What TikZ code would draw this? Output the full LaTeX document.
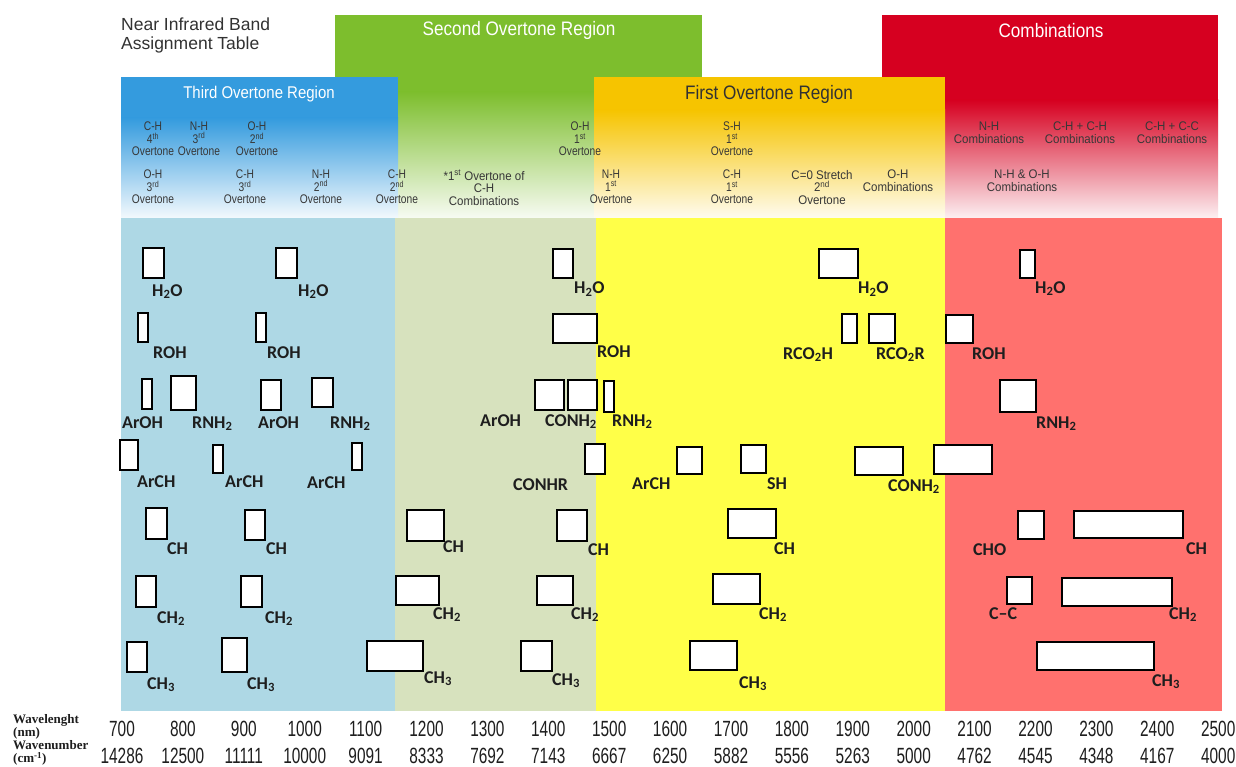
\documentclass[tikz,border=0pt]{standalone}
\usepackage{fontspec}
\setmainfont{Liberation Sans}
\newfontfamily\labfont{Carlito}
\newfontfamily\condfont{Liberation Sans}[FakeStretch=0.82]
\newfontfamily\widecondfont{Liberation Sans}[FakeStretch=0.92]
\newfontfamily\titlefont{Liberation Sans}[FakeStretch=0.88]
\newfontfamily\numfont{Liberation Sans}[FakeStretch=0.7]
\newfontfamily\axfont{Liberation Serif}

% region colours
\definecolor{blueHead}{RGB}{52,155,222}
\definecolor{greenHead}{RGB}{125,190,45}
\definecolor{yellowHead}{RGB}{246,196,0}
\definecolor{redHead}{RGB}{214,0,32}
\definecolor{blueBody}{RGB}{174,216,229}
\definecolor{greenBody}{RGB}{215,226,190}
\definecolor{yellowBody}{RGB}{255,255,72}
\definecolor{redBody}{RGB}{255,113,110}
\definecolor{labcol}{RGB}{30,30,30}
\definecolor{hdrcol}{RGB}{55,55,55}
\definecolor{titlecol}{RGB}{50,50,50}

\tikzset{
  bandbox/.style={draw=black, fill=white, line width=2.5pt, inner sep=0pt},
  lab/.style={anchor=base west, inner sep=0pt, text=labcol,
    font=\labfont\bfseries\fontsize{18}{18}\selectfont},
  hdr/.style={anchor=north, align=center, inner sep=0pt, text=hdrcol,
    font=\condfont\fontsize{12.5}{12.5}\selectfont},
  hdrwide/.style={hdr, font=\widecondfont\fontsize{12.5}{12.5}\selectfont},
  region/.style={inner sep=0pt, font=\titlefont\fontsize{19.5}{20}\selectfont},
  axnum/.style={inner sep=0pt, text=labcol, font=\numfont\fontsize{22}{22}\selectfont},
  axlab/.style={anchor=north west, align=left, inner sep=0pt, text=labcol,
    font=\axfont\bfseries\fontsize{13}{13.5}\selectfont},
}

% band box: name, centre x, centre y, width, height
\newcommand\bandbox[5]{\node[bandbox, minimum width=#4pt, minimum height=#5pt] (#1) at (#2,#3) {};}
% band label: name, x, baseline y, text
\newcommand\bandlab[4]{\node[lab] (#1) at (#2,#3) {#4};}

\begin{document}
\begin{tikzpicture}[x=1pt, y=-1pt]
\useasboundingbox (0,0) rectangle (1236,767);
\fill[white] (0,0) rectangle (1236,767);

% ---------- header panels ----------
\fill[greenHead] (335,15) rectangle (702,92);
\shade[top color=greenHead, bottom color=greenHead!6] (335,92) rectangle (702,218);
\fill[redHead] (882,15) rectangle (1218,100);
\shade[top color=redHead, bottom color=redHead!6] (882,100) rectangle (1218,218);
\fill[blueHead] (121,77) rectangle (398,118);
\shade[top color=blueHead, bottom color=blueHead!6] (121,118) rectangle (398,218);
\fill[yellowHead] (594,77) rectangle (945,110);
\shade[top color=yellowHead, bottom color=yellowHead!6] (594,110) rectangle (945,218);

% ---------- body bands ----------
\fill[blueBody] (121,218) rectangle (395,711);
\fill[greenBody] (395,218) rectangle (596,711);
\fill[yellowBody] (596,218) rectangle (945,711);
\fill[redBody] (945,218) rectangle (1222,711);

% ---------- titles ----------
\node[anchor=north west, align=left, inner sep=0pt, text=titlecol,
  font=\fontsize{17.5}{19.5}\selectfont] (title) at (121,17.5)
  {Near Infrared Band\\Assignment Table};
\node[region, text=white, font=\titlefont\fontsize{17}{17}\selectfont] (third) at (259,94) {Third Overtone Region};
\node[region, text=white] (second) at (519,30) {Second Overtone Region};
\node[region, text=titlecol] (first) at (769,94) {First Overtone Region};
\node[region, text=white] (comb) at (1051,31) {Combinations};

% ---------- header assignments ----------
\node[hdr] (h1) at (153,122) {C-H\\4\textsuperscript{th}\\Overtone};
\node[hdr] (h2) at (199,122) {N-H\\3\textsuperscript{rd}\\Overtone};
\node[hdr] (h3) at (257,122) {O-H\\2\textsuperscript{nd}\\Overtone};
\node[hdr] (h4) at (153,170) {O-H\\3\textsuperscript{rd}\\Overtone};
\node[hdr] (h5) at (245,170) {C-H\\3\textsuperscript{rd}\\Overtone};
\node[hdr] (h6) at (321,170) {N-H\\2\textsuperscript{nd}\\Overtone};
\node[hdr] (h7) at (397,170) {C-H\\2\textsuperscript{nd}\\Overtone};
\node[hdrwide] (h8) at (484,170) {*1\textsuperscript{st} Overtone of\\C-H\\Combinations};
\node[hdr] (h9) at (580,122) {O-H\\1\textsuperscript{st}\\Overtone};
\node[hdr] (h10) at (732,122) {S-H\\1\textsuperscript{st}\\Overtone};
\node[hdr] (h11) at (611,170) {N-H\\1\textsuperscript{st}\\Overtone};
\node[hdr] (h12) at (732,170) {C-H\\1\textsuperscript{st}\\Overtone};
\node[hdrwide] (h13) at (822,170) {C=0 Stretch\\2\textsuperscript{nd}\\Overtone};
\node[hdrwide] (h14) at (898,170) {O-H\\Combinations};
\node[hdrwide] (h15) at (989,122) {N-H\\Combinations};
\node[hdrwide] (h16) at (1080,122) {C-H + C-H\\Combinations};
\node[hdrwide] (h17) at (1172,122) {C-H + C-C\\Combinations};
\node[hdrwide] (h18) at (1022,170) {N-H \& O-H\\Combinations};

% ---------- band boxes ----------
% third overtone region
\bandbox{h2oA}{153.5}{263}{21}{30}
\bandbox{h2oB}{286.5}{263}{21}{30}
\bandbox{rohA}{143}{327.5}{10}{29}
\bandbox{rohB}{261}{327.5}{10}{29}
\bandbox{arohA}{147}{394}{10}{30}
\bandbox{rnhA}{183.5}{393}{25}{34}
\bandbox{arohB}{271}{395}{20}{30}
\bandbox{rnhB}{322.5}{392.5}{21}{29}
\bandbox{archA}{129}{455}{18}{30}
\bandbox{archB}{218}{459}{10}{28}
\bandbox{archC}{357}{456.5}{10}{27}
\bandbox{chA}{156.5}{523.5}{21}{31}
\bandbox{chB}{255}{525}{20}{30}
\bandbox{chtA}{146}{591.5}{20}{31}
\bandbox{chtB}{251.5}{591.5}{21}{31}
\bandbox{chmA}{137}{657}{20}{30}
\bandbox{chmB}{234.5}{655}{25}{34}
% second overtone region
\bandbox{chmC}{395}{656}{56}{30}
\bandbox{chC}{425.5}{525.5}{37}{31}
\bandbox{chtC}{417.5}{590.5}{43}{29}
\bandbox{h2oC}{563}{263.5}{20}{29}
\bandbox{rohC}{575}{328.5}{44}{29}
\bandbox{arohC}{549.5}{395}{29}{30}
\bandbox{conA}{582.5}{395}{29}{30}
\bandbox{rnhC}{609}{396.5}{10}{31}
\bandbox{conhr}{595}{459}{20}{30}
\bandbox{chD}{572}{525.5}{30}{31}
\bandbox{chtD}{555}{590.5}{36}{29}
\bandbox{chmD}{536.5}{656}{31}{30}
% first overtone region
\bandbox{h2oD}{838.5}{263.5}{39}{29}
\bandbox{rcoh}{849.5}{328.5}{15}{29}
\bandbox{rcor}{882}{328.5}{26}{29}
\bandbox{archD}{689.5}{460.5}{25}{27}
\bandbox{sh}{753.5}{459}{25}{28}
\bandbox{conB}{879}{461}{48}{28}
\bandbox{chE}{752}{523.5}{48}{29}
\bandbox{chtE}{736.5}{589}{47}{30}
\bandbox{chmE}{713.5}{655.5}{47}{29}
% combinations
\bandbox{rohD}{959.5}{329}{27}{28}
\bandbox{h2oE}{1027.5}{264}{15}{28}
\bandbox{rnhD}{1018}{396}{36}{32}
\bandbox{conC}{963}{459.5}{58}{29}
\bandbox{cho}{1031}{525}{26}{28}
\bandbox{chF}{1128.5}{524.5}{109}{27}
\bandbox{cc}{1019.5}{590.5}{25}{27}
\bandbox{chtF}{1117}{592}{110}{28}
\bandbox{chmF}{1095.5}{656}{117}{28}

% ---------- band labels ----------
\bandlab{lh2oA}{152}{296}{H\textsubscript{2}O}
\bandlab{lh2oB}{298}{296}{H\textsubscript{2}O}
\bandlab{lh2oC}{574}{294}{H\textsubscript{2}O}
\bandlab{lh2oD}{858}{294}{H\textsubscript{2}O}
\bandlab{lh2oE}{1035}{293}{H\textsubscript{2}O}
\bandlab{lrohA}{153}{358}{ROH}
\bandlab{lrohB}{267}{358}{ROH}
\bandlab{lrohC}{597}{357}{ROH}
\bandlab{lrohD}{972}{359}{ROH}
\bandlab{larohA}{122}{428}{ArOH}
\bandlab{larohB}{258}{428}{ArOH}
\bandlab{larohC}{480}{426}{ArOH}
\bandlab{lrnhA}{192}{428}{RNH\textsubscript{2}}
\bandlab{lrnhB}{330}{428}{RNH\textsubscript{2}}
\bandlab{lrnhC}{612}{426}{RNH\textsubscript{2}}
\bandlab{lrnhD}{1036}{428}{RNH\textsubscript{2}}
\bandlab{lconA}{545}{426}{CONH\textsubscript{2}}
\bandlab{lconB}{888}{491}{CONH\textsubscript{2}}
\bandlab{larchA}{137}{487}{ArCH}
\bandlab{larchB}{225}{487}{ArCH}
\bandlab{larchC}{307}{488}{ArCH}
\bandlab{larchD}{632}{489}{ArCH}
\bandlab{lconhr}{513}{490}{CONHR}
\bandlab{lsh}{767}{489}{SH}
\bandlab{lrcoh}{783}{359}{RCO\textsubscript{2}H}
\bandlab{lrcor}{876}{359}{RCO\textsubscript{2}R}
\bandlab{lchA}{167}{554}{CH}
\bandlab{lchB}{266}{554}{CH}
\bandlab{lchC}{443}{552}{CH}
\bandlab{lchD}{588}{555}{CH}
\bandlab{lchE}{774}{554}{CH}
\bandlab{lchF}{1186}{554}{CH}
\bandlab{lcho}{973}{555}{CHO}
\bandlab{lchtA}{157}{623}{CH\textsubscript{2}}
\bandlab{lchtB}{265}{623}{CH\textsubscript{2}}
\bandlab{lchtC}{433}{619}{CH\textsubscript{2}}
\bandlab{lchtD}{571}{619}{CH\textsubscript{2}}
\bandlab{lchtE}{759}{619}{CH\textsubscript{2}}
\bandlab{lchtF}{1169}{619}{CH\textsubscript{2}}
\bandlab{lcc}{989}{619}{C–C}
\bandlab{lchmA}{147}{689}{CH\textsubscript{3}}
\bandlab{lchmB}{247}{689}{CH\textsubscript{3}}
\bandlab{lchmC}{424}{683}{CH\textsubscript{3}}
\bandlab{lchmD}{552}{685}{CH\textsubscript{3}}
\bandlab{lchmE}{739}{688}{CH\textsubscript{3}}
\bandlab{lchmF}{1152}{686}{CH\textsubscript{3}}

% ---------- axis scales ----------
\node[axlab] (wlab) at (13,714) {Wavelenght\\(nm)};
\node[axlab] (wnlab) at (13,740) {Wavenumber\\(cm\textsuperscript{-1})};
\foreach \w/\k [count=\i from 0] in {700/14286, 800/12500, 900/11111, 1000/10000,
    1100/9091, 1200/8333, 1300/7692, 1400/7143, 1500/6667, 1600/6250, 1700/5882,
    1800/5556, 1900/5263, 2000/5000, 2100/4762, 2200/4545, 2300/4348, 2400/4167,
    2500/4000} {
  \node[axnum] (wl\i) at ({122+60.9*\i},729) {\w};
  \node[axnum] (wn\i) at ({122+60.9*\i},756) {\k};
}
\end{tikzpicture}
\end{document}
